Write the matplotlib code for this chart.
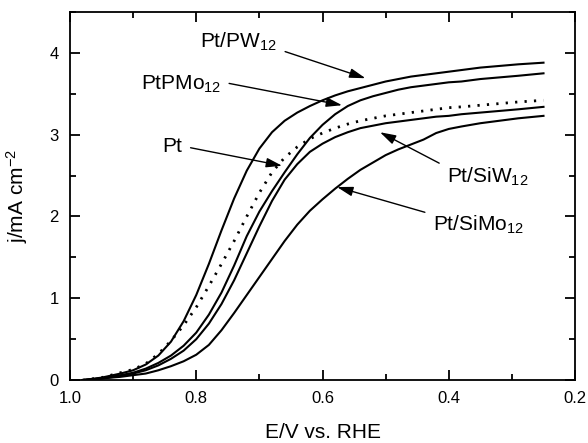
import matplotlib
matplotlib.use("Agg")
import matplotlib.pyplot as plt
from matplotlib.ticker import MultipleLocator

plt.rcParams['font.family'] = ['Liberation Sans', 'DejaVu Sans']
plt.rcParams['mathtext.fontset'] = 'custom'
plt.rcParams['mathtext.rm'] = 'Liberation Sans'
plt.rcParams['mathtext.it'] = 'Liberation Sans'

# potential grid (V vs. RHE)
E = [0.98, 0.95, 0.92, 0.90, 0.88, 0.86, 0.84, 0.82, 0.80, 0.78, 0.76, 0.74,
     0.72, 0.70, 0.68, 0.66, 0.64, 0.62, 0.60, 0.58, 0.56, 0.54, 0.52, 0.50,
     0.48, 0.46, 0.44, 0.42, 0.40, 0.38, 0.35, 0.32, 0.29, 0.25]

# current density, mA cm-2
j_pw12 = [0.0, 0.03, 0.08, 0.12, 0.19, 0.30, 0.47, 0.72, 1.04, 1.42, 1.83, 2.22,
          2.56, 2.83, 3.03, 3.17, 3.27, 3.35, 3.42, 3.48, 3.53, 3.57, 3.61, 3.65,
          3.68, 3.71, 3.73, 3.75, 3.77, 3.79, 3.82, 3.84, 3.86, 3.88]
j_pt = [0.0, 0.03, 0.09, 0.13, 0.20, 0.32, 0.48, 0.67, 0.89, 1.15, 1.42, 1.70,
        2.00, 2.29, 2.54, 2.72, 2.85, 2.95, 3.02, 3.08, 3.13, 3.17, 3.20, 3.23,
        3.25, 3.27, 3.29, 3.31, 3.33, 3.34, 3.36, 3.38, 3.40, 3.42]
j_pmo12 = [0.0, 0.02, 0.06, 0.09, 0.14, 0.21, 0.30, 0.42, 0.58, 0.80, 1.07, 1.40,
           1.76, 2.06, 2.31, 2.54, 2.76, 2.96, 3.12, 3.25, 3.35, 3.42, 3.47, 3.51,
           3.55, 3.58, 3.60, 3.62, 3.64, 3.65, 3.68, 3.70, 3.72, 3.75]
j_siw12 = [0.0, 0.02, 0.05, 0.08, 0.12, 0.18, 0.26, 0.36, 0.50, 0.69, 0.93, 1.22,
           1.55, 1.88, 2.19, 2.45, 2.64, 2.79, 2.89, 2.97, 3.03, 3.08, 3.11, 3.14,
           3.16, 3.18, 3.20, 3.22, 3.23, 3.25, 3.27, 3.29, 3.31, 3.34]
j_simo12 = [0.0, 0.02, 0.04, 0.06, 0.08, 0.12, 0.17, 0.23, 0.31, 0.43, 0.61, 0.82,
            1.04, 1.26, 1.48, 1.70, 1.90, 2.07, 2.21, 2.34, 2.46, 2.57, 2.66, 2.75,
            2.82, 2.88, 2.94, 3.02, 3.07, 3.10, 3.14, 3.17, 3.20, 3.23]

# labels: text, text centre (E, j), arrow tip (E, j), alignment, arrow start on text box
labels = ["Pt/PW$_{12}$", "PtPMo$_{12}$", "Pt", "Pt/SiW$_{12}$", "Pt/SiMo$_{12}$"]
label_xy = [(0.672, 4.13), (0.761, 3.62), (0.822, 2.86), (0.403, 2.48), (0.425, 1.90)]
tip_xy = [(0.532, 3.69), (0.569, 3.36), (0.664, 2.62), (0.509, 3.03), (0.577, 2.36)]
label_ha = ["right", "right", "right", "left", "left"]
arrow_rel = [(1.0, 0.2), (1.0, 0.6), (1.0, 0.5), (0.0, 0.95), (0.0, 0.95)]

fig = plt.figure(figsize=(5.88, 4.43), dpi=100)
ax = fig.add_axes([0.119, 0.142, 0.859, 0.831])

lw = 1.5
ax.plot(E, j_pw12, color='black', lw=lw)
ax.plot(E, j_pmo12, color='black', lw=lw)
ax.plot(E, j_siw12, color='black', lw=lw)
ax.plot(E, j_simo12, color='black', lw=lw)
ax.plot(E, j_pt, color='black', lw=2.0, linestyle=(0, (0.8, 2.6)))

for txt, xy, tip, ha, rel in zip(labels, label_xy, tip_xy, label_ha, arrow_rel):
    ax.annotate(txt, xy=tip, xytext=xy, ha=ha, va='center', fontsize=15,
                arrowprops=dict(arrowstyle='-|>,head_length=0.6,head_width=0.18',
                                color='black', lw=1.0, mutation_scale=16,
                                shrinkA=4, shrinkB=0, relpos=rel))

ax.set_xlim(1.0, 0.2)
ax.set_ylim(0, 4.5)
ax.xaxis.set_major_locator(MultipleLocator(0.2))
ax.xaxis.set_minor_locator(MultipleLocator(0.1))
ax.yaxis.set_major_locator(MultipleLocator(1))
ax.yaxis.set_minor_locator(MultipleLocator(0.5))
ax.xaxis.set_major_formatter(plt.FuncFormatter(lambda v, p: f"{v:.1f}"))
ax.yaxis.set_major_formatter(plt.FuncFormatter(lambda v, p: f"{v:.0f}"))
ax.tick_params(which='both', direction='in', top=True, right=True, width=1.3,
               labelsize=12, pad=8)
ax.tick_params(which='major', length=7)
ax.tick_params(which='minor', length=4)
for s in ax.spines.values():
    s.set_linewidth(1.3)

ax.set_xlabel("E/V vs. RHE", fontsize=15, labelpad=12)
ax.set_ylabel("j/mA cm$^{-2}$", fontsize=15, labelpad=14)

fig.savefig("out.png", dpi=100)
